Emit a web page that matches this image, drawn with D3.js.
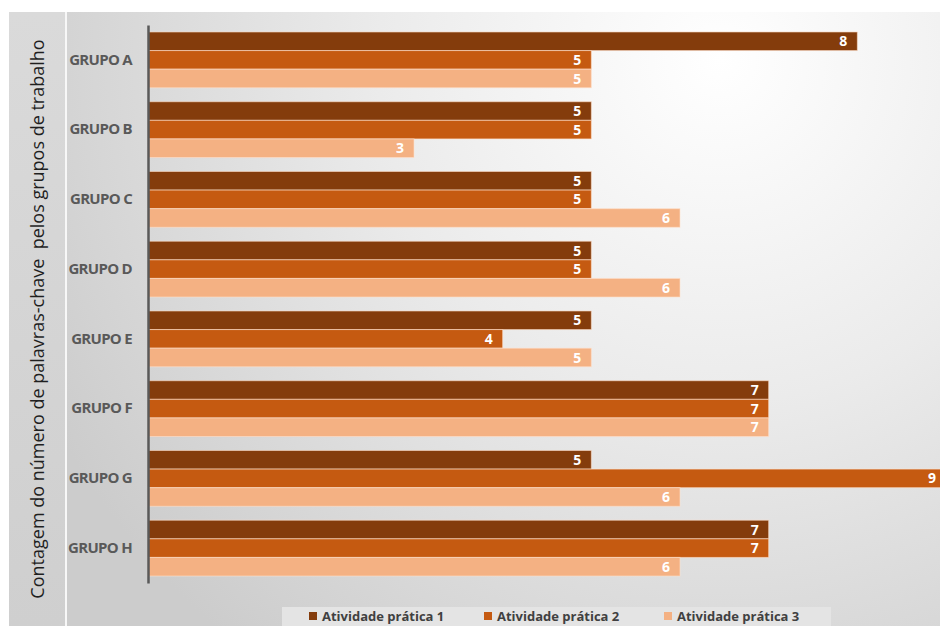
<!DOCTYPE html>
<html>
<head>
<meta charset="utf-8">
<script src="https://cdn.jsdelivr.net/npm/d3@7"></script>
<style>
  html, body { margin: 0; padding: 0; background: #fff; }
  svg { display: block; }
</style>
</head>
<body>
<div id="chart"></div>
<script>
var groups = ["GRUPO A", "GRUPO B", "GRUPO C", "GRUPO D", "GRUPO E", "GRUPO F", "GRUPO G", "GRUPO H"];
var seriesNames = ["Atividade prática 1", "Atividade prática 2", "Atividade prática 3"];
var atividade1 = [8, 5, 5, 5, 5, 7, 5, 7];
var atividade2 = [5, 5, 5, 5, 4, 7, 9, 7];
var atividade3 = [5, 3, 6, 6, 5, 7, 6, 6];
var colors = ["#843c0c", "#c55a11", "#f4b183"];
var yTitle = "Contagem do número de palavras-chave  pelos grupos de trabalho";

var width = 940, height = 626;
var allSeries = [atividade1, atividade2, atividade3];

var svg = d3.select("#chart").append("svg")
    .attr("width", width)
    .attr("height", height);

var defs = svg.append("defs");
var bg = defs.append("radialGradient")
    .attr("id", "bgGrad")
    .attr("gradientUnits", "userSpaceOnUse")
    .attr("cx", 720).attr("cy", 60).attr("r", 760);
bg.append("stop").attr("offset", "0%").attr("stop-color", "#ffffff");
bg.append("stop").attr("offset", "45%").attr("stop-color", "#ebebeb");
bg.append("stop").attr("offset", "100%").attr("stop-color", "#cccccc");

var side = defs.append("linearGradient")
    .attr("id", "sideGrad")
    .attr("x1", 0).attr("y1", 0).attr("x2", 0).attr("y2", 1);
side.append("stop").attr("offset", "0%").attr("stop-color", "#dadada");
side.append("stop").attr("offset", "100%").attr("stop-color", "#cfcfcf");

// backgrounds
svg.append("rect")
    .attr("x", 67).attr("y", 12)
    .attr("width", width - 67).attr("height", height - 12)
    .attr("fill", "url(#bgGrad)");
svg.append("rect")
    .attr("x", 9).attr("y", 12)
    .attr("width", 56).attr("height", height - 12)
    .attr("fill", "url(#sideGrad)");
svg.append("rect")
    .attr("x", 65).attr("y", 12)
    .attr("width", 2).attr("height", height - 12)
    .attr("fill", "#f7f7f7");

var x = d3.scaleLinear()
    .domain([0, 9])
    .range([148, 946]);

var y = d3.scaleBand()
    .domain(groups)
    .range([25, 583])
    .paddingInner(0.2)
    .paddingOuter(0.1);

var ySub = d3.scaleBand()
    .domain(d3.range(3))
    .range([0, y.bandwidth()]);

var rows = [];
groups.forEach(function(g, i) {
    allSeries.forEach(function(s, k) {
        rows.push({ group: g, k: k, value: s[i] });
    });
});

var plot = svg.append("g");

plot.selectAll(".bar")
    .data(rows)
    .enter()
    .append("rect")
    .attr("class", "bar")
    .attr("x", x(0))
    .attr("y", function(d) { return y(d.group) + ySub(d.k); })
    .attr("width", function(d) { return x(d.value) - x(0); })
    .attr("height", ySub.bandwidth())
    .attr("fill", function(d) { return colors[d.k]; })
    .attr("stroke", "rgba(255,225,205,0.6)")
    .attr("stroke-width", 1);

plot.selectAll(".val")
    .data(rows)
    .enter()
    .append("text")
    .attr("class", "val")
    .attr("x", function(d) { return Math.min(x(d.value), 946) - 10; })
    .attr("y", function(d) { return y(d.group) + ySub(d.k) + ySub.bandwidth() / 2; })
    .attr("dy", "0.36em")
    .attr("text-anchor", "end")
    .attr("font-family", "'Open Sans', sans-serif")
    .attr("font-weight", "bold")
    .attr("font-size", "14px")
    .attr("fill", "#fff")
    .text(function(d) { return d.value; });

// y axis line and category labels
var yAxis = d3.axisLeft(y).tickSize(0).tickPadding(16);
var ya = svg.append("g")
    .attr("transform", "translate(" + x(0) + ",0)")
    .call(yAxis);
ya.select(".domain")
    .attr("stroke", "#595959")
    .attr("stroke-width", 2.5);
ya.selectAll("text")
    .attr("font-family", "'Open Sans', sans-serif")
    .attr("font-weight", "bold")
    .attr("font-size", "15px")
    .attr("letter-spacing", "-0.7px")
    .attr("fill", "#595959");

// y title
svg.append("text")
    .attr("transform", "translate(37,319) rotate(-90)")
    .attr("text-anchor", "middle")
    .attr("dominant-baseline", "central")
    .attr("font-family", "'Open Sans', sans-serif")
    .attr("font-size", "18px")
    .attr("fill", "#1f1f1f")
    .style("white-space", "pre")
    .text(yTitle);

// legend
var legend = svg.append("g");
legend.append("rect")
    .attr("x", 282).attr("y", 607)
    .attr("width", 549).attr("height", 22)
    .attr("fill", "#e4e4e4");

var legendX = [309, 484, 664];
var items = legend.selectAll(".item")
    .data(seriesNames)
    .enter()
    .append("g")
    .attr("class", "item")
    .attr("transform", function(d, i) { return "translate(" + legendX[i] + ",616)"; });
items.append("rect")
    .attr("x", 0).attr("y", -4)
    .attr("width", 8).attr("height", 8)
    .attr("fill", function(d, i) { return colors[i]; });
items.append("text")
    .attr("x", 13)
    .attr("dy", "0.36em")
    .attr("font-family", "'Open Sans', sans-serif")
    .attr("font-weight", "bold")
    .attr("font-size", "13px")
    .attr("fill", "#404040")
    .text(function(d) { return d; });
</script>
</body>
</html>
